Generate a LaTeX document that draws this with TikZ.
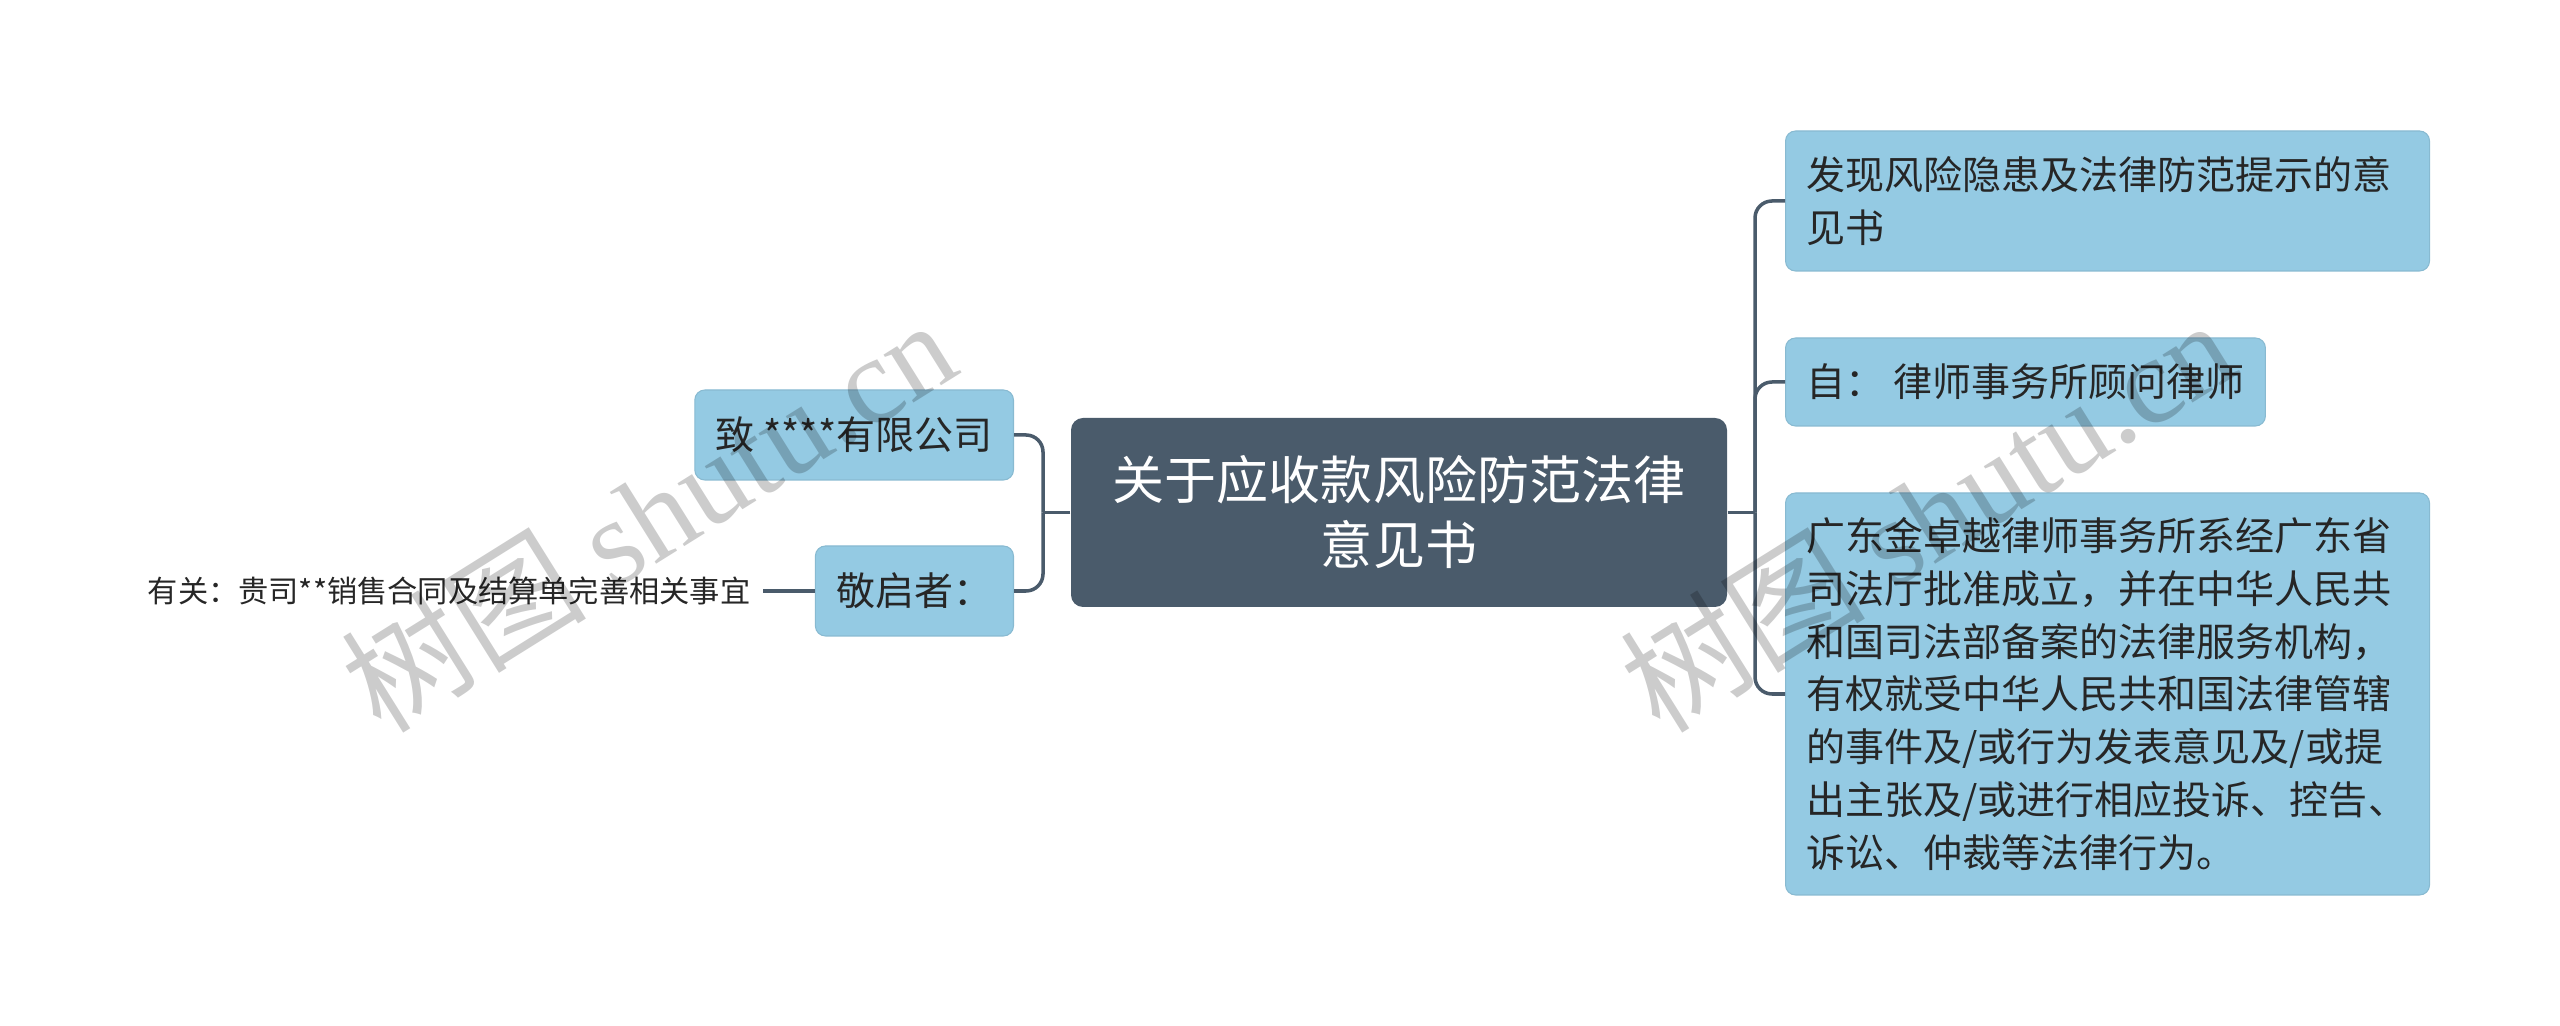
\documentclass[tikz,border=0pt]{standalone}
\usepackage{fontspec}
\setmainfont{Noto Sans CJK SC}
\newfontfamily\wmserif{Liberation Serif}
\usepackage{tikz}
\usetikzlibrary{positioning}
\definecolor{rootslate}{RGB}{74,91,107}
\definecolor{leafblue}{RGB}{148,202,227}
\definecolor{leaftext}{RGB}{38,38,38}

\begin{document}
\begin{tikzpicture}[
    root/.style={fill=rootslate, rounded corners=0.12cm, text=white, minimum width=6.56cm, minimum height=1.89cm, align=center, font=\fontsize{14.8}{18.5}\selectfont},
    leaf/.style={fill=leafblue, draw=leafblue!92!black, line width=0.3pt, rounded corners=0.1cm, text=leaftext, inner xsep=0.21cm, font=\fontsize{11.1}{15}\selectfont},
    wide/.style={leaf, text width=6.02cm, align=left},
    conn/.style={draw=rootslate, line width=1pt, rounded corners=0.17cm},
    wm/.style={text=black, text opacity=0.2, rotate=32, font=\fontsize{35}{35}\selectfont}]
    \useasboundingbox (0,0) rectangle (25.6,-10.26);
    \node[root] (root) at (13.99,-5.125) {关于应收款风险防范法律\\意见书};
    % right side
    \node[wide, minimum height=1.40cm, anchor=west] (c1) at (17.85,-2.01) {发现风险隐患及法律防范提示的意\\见书};
    \node[leaf, minimum width=4.78cm, minimum height=0.88cm, anchor=west] (c2) at (17.85,-3.82) {自： 律师事务所顾问律师};
    \node[wide, minimum height=4.02cm, anchor=west] (c3) at (17.85,-6.94) {广东金卓越律师事务所系经广东省\\司法厅批准成立，并在中华人民共\\和国司法部备案的法律服务机构，\\有权就受中华人民共和国法律管辖\\的事件及/或行为发表意见及/或提\\出主张及/或进行相应投诉、控告、\\诉讼、仲裁等法律行为。};
    % left side
    \node[leaf, minimum width=3.16cm, minimum height=0.90cm, anchor=east] (l1) at (10.14,-4.35) {致 ****有限公司};
    \node[leaf, minimum width=1.94cm, minimum height=0.90cm, anchor=east] (l2) at (10.14,-5.91) {敬启者：};
    \node[text=leaftext, inner xsep=0.12cm, anchor=east, font=\fontsize{8.6}{10}\selectfont] (note) at (7.63,-5.91) {有关：贵司**销售合同及结算单完善相关事宜};
    \coordinate (lj) at (10.43,-5.125);
    \coordinate (rj) at (17.55,-5.125);
    \draw[conn] (root.west) -- (lj);
    \draw[conn] (lj) |- (l1.east);
    \draw[conn] (lj) |- (l2.east);
    \draw[conn] (root.east) -- (rj);
    \foreach \c in {c1,c2,c3} \draw[conn] (rj) |- (\c.west);
    \draw[conn] (note.east) -- (l2.west);
    % watermarks
    \node[wm] (wmleft) at (6.48,-5.14) {树图 {\wmserif shutu.cn}};
    \node[wm] (wmright) at (19.27,-5.14) {树图 {\wmserif shutu.cn}};
\end{tikzpicture}
\end{document}
